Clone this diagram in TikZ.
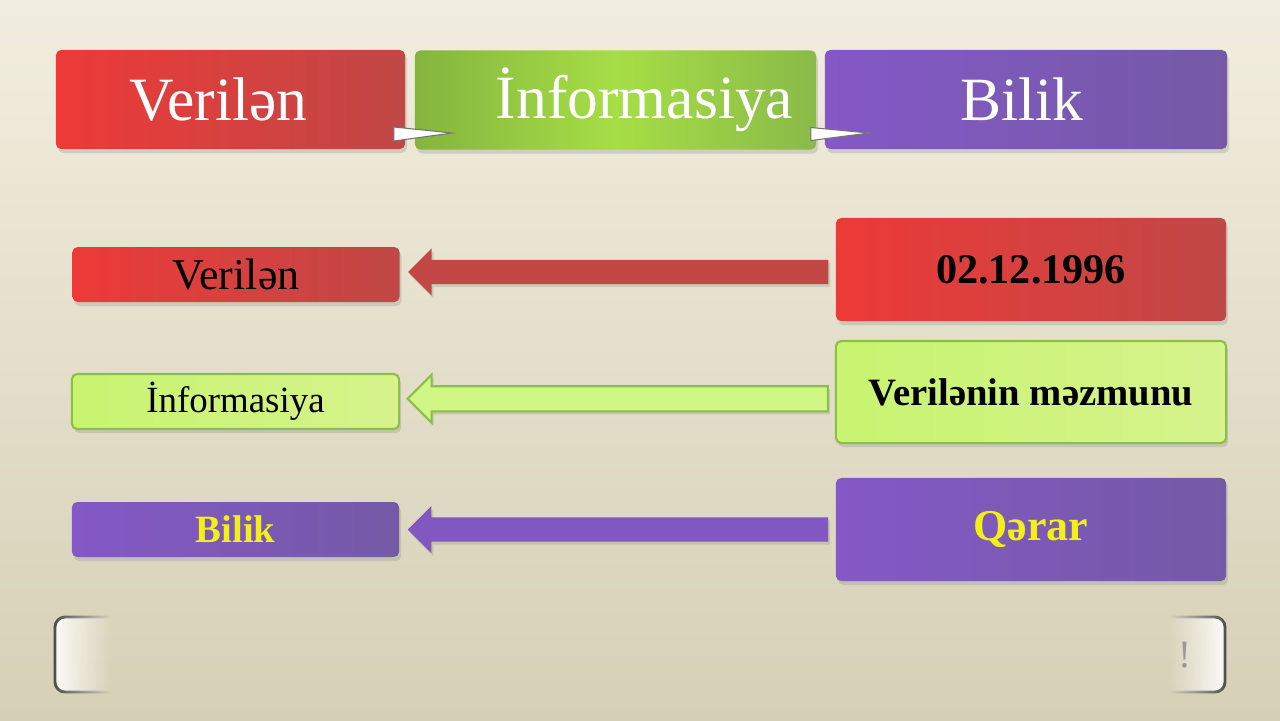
\documentclass[tikz,border=0pt]{standalone}
\usepackage{fontspec}
\setmainfont{Liberation Serif}
\usetikzlibrary{calc,shapes.arrows,shadows,fadings}

\definecolor{bgtop}{RGB}{242,238,223}
\definecolor{bgbot}{RGB}{214,208,182}
\definecolor{redA}{RGB}{236,58,56}
\definecolor{redB}{RGB}{192,72,70}
\definecolor{grnA}{RGB}{132,180,62}
\definecolor{grnM}{RGB}{166,222,70}
\definecolor{grnB}{RGB}{138,186,72}
\definecolor{purA}{RGB}{132,88,198}
\definecolor{purB}{RGB}{116,90,166}
\definecolor{limeA}{RGB}{200,244,112}
\definecolor{limeB}{RGB}{214,243,140}
\definecolor{limeD}{RGB}{140,190,72}
\definecolor{yel}{RGB}{242,240,22}

\begin{document}
\begin{tikzpicture}[x=0.01cm,y=-0.01cm,
    box/.style={rectangle, inner sep=0pt, rounded corners=1.5pt,
      drop shadow={shadow xshift=0.02cm, shadow yshift=-0.04cm, opacity=0.25}},
    topbox/.style={box, text=white, font=\fontsize{17.5}{20}\selectfont,
      minimum height=0.99cm},
    redbox/.style={box, left color=redA, right color=redB},
    limebox/.style={box, left color=limeA, right color=limeB, draw=limeD, line width=0.6pt},
    purbox/.style={box, left color=purA, right color=purB},
    blockarrow/.style={single arrow, shape border rotate=180, inner sep=0.115cm,
      minimum height=4.2cm, minimum width=0.47cm, single arrow head extend=0.115cm,
      drop shadow={shadow xshift=0.02cm, shadow yshift=-0.03cm, opacity=0.25}},
    wedge/.style={fill=white, draw=black!55, line width=0.3pt},
    endcap/.style={fill=white!92!bgbot, draw=black!70, line width=0.8pt, rounded corners=0.1cm}]
  \useasboundingbox (0,0) rectangle (1280,720);
  \fill[top color=bgtop, bottom color=bgbot] (0,0) rectangle (1280,720);

  \node[topbox, minimum width=3.49cm, left color=redA, right color=redB] (t1) at (230.5,99.5) {\kern-0.24cm Verilən};
  \node[topbox, minimum width=4.01cm, left color=grnA, right color=grnB, middle color=grnM] (t2) at (615.5,100) {\kern0.58cm İnformasiya};
  \node[topbox, minimum width=4.02cm, left color=purA, right color=purB] (t3) at (1026,99.5) {\kern-0.08cm Bilik};
  \filldraw[wedge] ($(t1.east)+(-12,27.5)$) -- ($(t2.west)+(38,33)$) -- ($(t1.east)+(-12,41.5)$) -- cycle;
  \filldraw[wedge] ($(t2.east)+(-6,27.5)$) -- ($(t3.west)+(45,33.5)$) -- ($(t2.east)+(-6,40.5)$) -- cycle;

  \node[redbox, minimum width=3.27cm, minimum height=0.55cm, font=\fontsize{12.5}{15}\selectfont] (v1) at (236,274.5) {Verilən};
  \node[redbox, minimum width=3.9cm, minimum height=1.03cm, font=\bfseries\fontsize{12}{15}\selectfont] (d1) at (1031,269.5) {02.12.1996};
  \node[blockarrow, fill=redB!95!redA] (a1) at ($(v1.east)!0.5!(d1.west)+(6.5,0)$) {};

  \node[limebox, minimum width=3.27cm, minimum height=0.55cm, font=\fontsize{10.5}{13}\selectfont] (v2) at (235.5,401.5) {İnformasiya};
  \node[limebox, minimum width=3.9cm, minimum height=1.02cm, font=\bfseries\fontsize{11}{14}\selectfont] (d2) at (1031,392) {Verilənin məzmunu};
  \node[blockarrow, fill=limeA!85!white, draw=limeD, line width=0.6pt] (a2) at ($(v2.east)!0.5!(d2.west)+(6.5,2)$) {};

  \node[purbox, minimum width=3.27cm, minimum height=0.55cm, text=yel, font=\bfseries\fontsize{11}{14}\selectfont] (v3) at (235.5,529.5) {Bilik};
  \node[purbox, minimum width=3.9cm, minimum height=1.03cm, text=yel, font=\bfseries\fontsize{12.5}{15}\selectfont] (d3) at (1031,529.5) {Qərar};
  \node[blockarrow, fill=purA!80!purB] (a3) at ($(v3.east)!0.5!(d3.west)+(6.5,0)$) {};

  \filldraw[endcap, path fading=east] (110,617) -- (55,617) -- (55,692) -- (110,692);
  \filldraw[endcap, path fading=west] (1170,617) -- (1225,617) -- (1225,692) -- (1170,692);
  \node[text=black!40, font=\fontsize{11}{13}\selectfont] (ex) at (1185,655) {!};
\end{tikzpicture}
\end{document}
